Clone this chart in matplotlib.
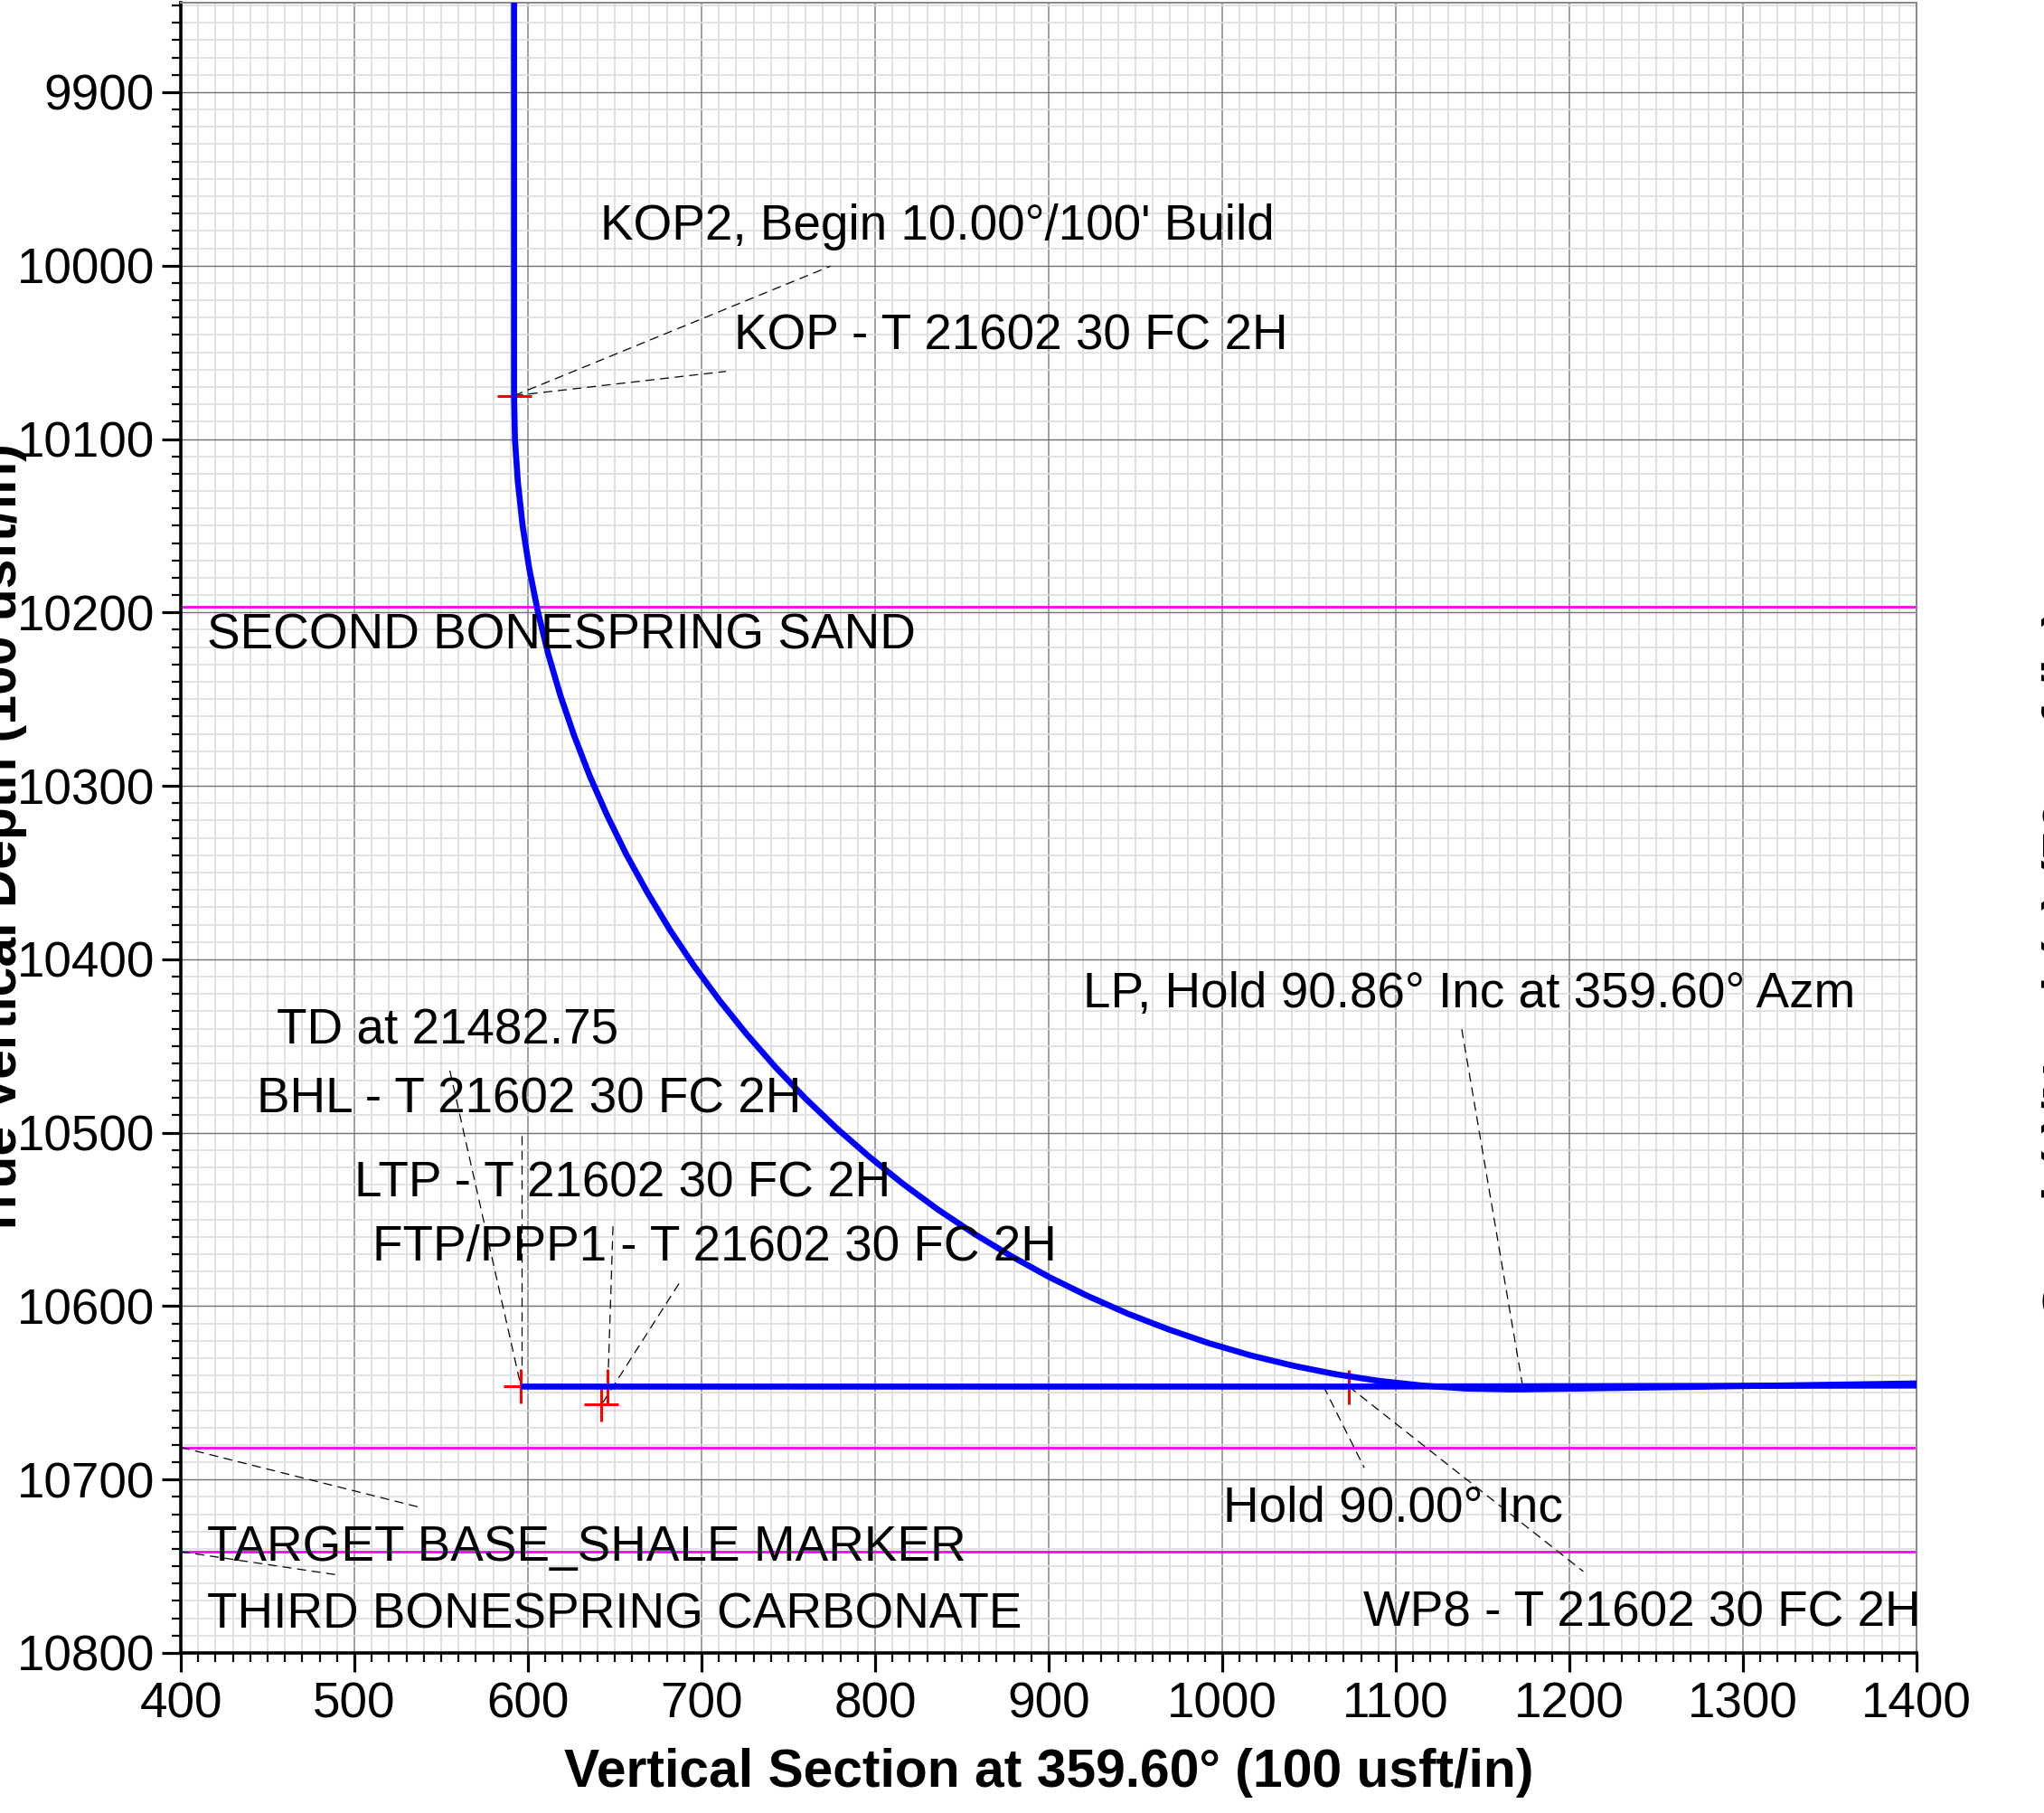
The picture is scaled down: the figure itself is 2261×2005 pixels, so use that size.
import matplotlib
matplotlib.use("Agg")
import matplotlib.pyplot as plt
from matplotlib.ticker import MultipleLocator

plt.rcParams['font.family'] = ['Liberation Sans', 'DejaVu Sans']

# ---------------- data ----------------
# outbound wellbore: vertical section (usft) and TVD (usft)
path_vs = [592.0, 592.0, 592.5, 594.2, 596.9, 600.7, 605.6, 611.5, 618.5, 626.6,
           635.6, 645.7, 656.7, 668.8, 681.7, 695.6, 710.4, 726.1, 742.5, 759.8,
           777.9, 796.7, 816.2, 836.3, 857.1, 878.5, 900.4, 922.8, 945.7, 969.0,
           992.7, 1016.7, 1041.0, 1065.5, 1090.2, 1115.1, 1140.0, 1165.0, 1173.6,
           1400.0]
path_tvd = [9840.0, 10075.0, 10100.0, 10124.9, 10149.8, 10174.5, 10199.0, 10223.3,
            10247.3, 10271.0, 10294.3, 10317.2, 10339.6, 10361.5, 10382.9, 10403.7,
            10423.8, 10443.3, 10462.1, 10480.2, 10497.5, 10513.9, 10529.6, 10544.4,
            10558.3, 10571.2, 10583.3, 10594.3, 10604.4, 10613.4, 10621.5, 10628.5,
            10634.4, 10639.3, 10643.1, 10645.8, 10647.5, 10648.0, 10648.0, 10644.6]
# return lateral
ret_vs = [1400.0, 1073.0, 596.0]
ret_tvd = [10645.8, 10646.4, 10646.4]

# red survey / target markers
mark_vs = [592.0, 596.0, 646.0, 642.4, 1073.0]
mark_tvd = [10075.0, 10646.4, 10646.4, 10656.8, 10646.5]

# formation tops
form_names = ["SECOND BONESPRING SAND", "TARGET BASE_SHALE MARKER", "THIRD BONESPRING CARBONATE"]
form_tvd = [10196.5, 10681.4, 10741.6]

# annotation labels: text, label x, label baseline tvd
ann_text = ["KOP2, Begin 10.00\u00b0/100' Build", "KOP - T 21602 30 FC 2H",
            "SECOND BONESPRING SAND", "LP, Hold 90.86\u00b0 Inc at 359.60\u00b0 Azm",
            "TD at 21482.75", "BHL - T 21602 30 FC 2H", "LTP - T 21602 30 FC 2H",
            "FTP/PPP1 - T 21602 30 FC 2H", "Hold 90.00\u00b0 Inc",
            "WP8 - T 21602 30 FC 2H", "TARGET BASE_SHALE MARKER",
            "THIRD BONESPRING CARBONATE"]
ann_x = [641.5, 719.0, 415.0, 920.0, 455.0, 443.5, 500.0, 510.5, 1000.5, 1081.5, 415.0, 415.0]
ann_y = [9985.0, 10048.5, 10221.2, 10427.5, 10448.8, 10488.5, 10537.0, 10573.5,
         10724.2, 10784.5, 10746.8, 10785.8]

# leader lines: (x0, y0) -> (x1, y1)
lead_x0 = [592.0, 592.0, 555.0, 596.1, 649.0, 687.0, 1138.0, 1058.3, 1072.8, 400.0, 400.0]
lead_y0 = [10075.0, 10075.0, 10464.2, 10502.0, 10554.0, 10587.0, 10440.4, 10646.2, 10646.3, 10681.4, 10741.6]
lead_x1 = [774.3, 714.0, 596.0, 596.1, 646.0, 642.4, 1173.4, 1081.8, 1208.0, 537.6, 489.6]
lead_y1 = [10000.3, 10061.0, 10646.4, 10646.4, 10646.4, 10656.8, 10648.0, 10693.2, 10753.0, 10716.0, 10754.9]

x_ticks = list(range(400, 1401, 100))
y_ticks = list(range(9900, 10801, 100))

# ---------------- figure ----------------
W, H = 2261, 2005
fig = plt.figure(figsize=(W / 100, H / 100), dpi=100)
ax = fig.add_axes([200 / W, 1 - 1828 / H, 1920 / W, 1825 / H])

ax.set_xlim(400, 1400)
ax.set_ylim(10800, 9848.4)

ax.xaxis.set_minor_locator(MultipleLocator(10))
ax.yaxis.set_minor_locator(MultipleLocator(10))
ax.set_xticks(x_ticks)
ax.set_yticks(y_ticks)

ax.grid(which='minor', color='#dedede', lw=1.3, zorder=0)
ax.grid(which='major', axis='x', color='#a0a0a0', lw=1.4, zorder=0)
ax.grid(which='major', axis='y', color='#707070', lw=1.0, zorder=0)
ax.set_axisbelow(True)

ax.tick_params(which='major', length=15, width=2.3, labelsize=39.5, pad=6, color='black')
ax.tick_params(which='minor', length=7, width=1.6, color='black')
ax.tick_params(axis='x', which='major', pad=8)

for s in ['left', 'bottom']:
    ax.spines[s].set_linewidth(2.6)
    ax.spines[s].set_color('black')
for s in ['top', 'right']:
    ax.spines[s].set_linewidth(1.4)
    ax.spines[s].set_color('#888888')

# formation lines
for t in form_tvd:
    ax.axhline(t, color='#ff00ff', lw=2.0, zorder=2)

# leader lines
for x0, y0, x1, y1 in zip(lead_x0, lead_y0, lead_x1, lead_y1):
    ax.plot([x0, x1], [y0, y1], color='black', lw=0.9, ls=(0, (8, 5)), zorder=3)

# markers (below wellbore)
ax.plot(mark_vs, mark_tvd, ls='none', marker='+', ms=27, mew=2.2, color='#ff0000', zorder=4)

# wellbore
ax.plot(path_vs, path_tvd, color='#0000ff', lw=4.8, zorder=5, solid_joinstyle='round')
ax.plot(ret_vs, ret_tvd, color='#0000ff', lw=4.8, zorder=5, solid_capstyle='butt')

# labels
for t, x, y in zip(ann_text, ann_x, ann_y):
    ax.text(x, y, t, fontsize=39.5, ha='left', va='baseline', color='black', zorder=6, clip_on=False)

fig.text(0.513, 1 - 1961 / H, "Vertical Section at 359.60\u00b0 (100 usft/in)",
         fontsize=42.3, fontweight='bold', ha='center', va='center')
fig.text(0.001, 1 - 930 / H, "True Vertical Depth (100 usft/in)",
         fontsize=42.3, fontweight='bold', ha='center', va='center', rotation=90)
fig.text(2286 / W, 1 - 1065 / H, "South(-)/North(+) (50 usft/in)",
         fontsize=42.3, fontweight='bold', ha='center', va='center', rotation=90)

fig.savefig("out.png", dpi=100)
